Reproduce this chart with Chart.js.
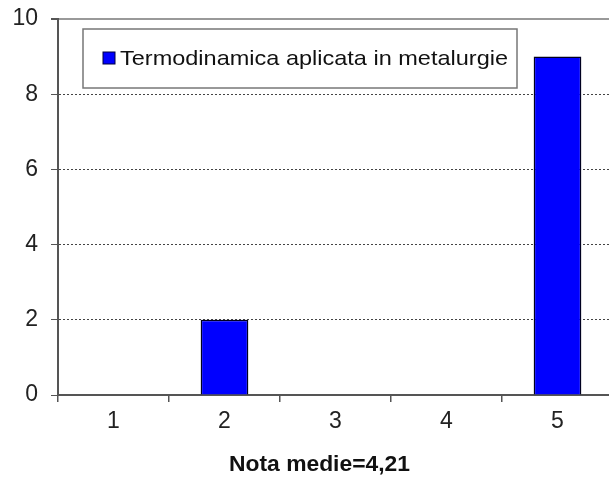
<!DOCTYPE html>
<html>
<head>
<meta charset="utf-8">
<script src="https://cdn.jsdelivr.net/npm/chart.js@4/dist/chart.umd.min.js"></script>
<style>
  html, body { margin: 0; padding: 0; background: #fff; overflow: hidden; }
  #wrap { width: 614px; height: 479px; }
</style>
</head>
<body>
<div id="wrap"><canvas id="chartNote" width="614" height="479"></canvas></div>
<script>
const note     = ['1', '2', '3', '4', '5'];
const studenti = [0, 2, 0, 0, 9];
const yTicks   = [0, 2, 4, 6, 8, 10];
const titluSerie = 'Termodinamica aplicata in metalurgie';
const titluAxa   = 'Nota medie=4,21';

const FONT = '"Liberation Sans", Arial, sans-serif';

// text intins pe orizontala pana la latimea data
const scrieIntins = (ctx, text, x, y, latime) => {
  const w = ctx.measureText(text).width;
  ctx.save();
  ctx.translate(x, y);
  ctx.scale(latime / w, 1);
  ctx.fillText(text, 0, 0);
  ctx.restore();
};

// legenda in chenar + titlul de jos
const legendaChenar = {
  id: 'legendaChenar',
  afterDraw(chart) {
    const ctx = chart.ctx;
    const ds = chart.data.datasets[0];
    ctx.save();
    ctx.fillStyle = '#fff';
    ctx.fillRect(83, 29, 434, 59);
    ctx.strokeStyle = '#777';
    ctx.lineWidth = 1.5;
    ctx.strokeRect(83, 29, 434, 59);

    ctx.fillStyle = ds.backgroundColor;
    ctx.fillRect(103, 52, 12, 12);
    ctx.strokeStyle = '#000040';
    ctx.lineWidth = 1;
    ctx.strokeRect(103, 52, 12, 12);

    ctx.font = '21px ' + FONT;
    ctx.fillStyle = '#111';
    ctx.textBaseline = 'middle';
    ctx.textAlign = 'left';
    scrieIntins(ctx, ds.label, 120, 59, 388);

    ctx.font = 'bold 22px ' + FONT;
    scrieIntins(ctx, titluAxa, 229, 465, 181);
    ctx.restore();
  }
};

new Chart(document.getElementById('chartNote'), {
  type: 'bar',
  data: {
    labels: note,
    datasets: [{
      label: titluSerie,
      data: studenti,
      backgroundColor: '#0000ff',
      borderColor: '#000020',
      borderWidth: 1.5,
      barPercentage: 1,
      categoryPercentage: 0.43
    }]
  },
  options: {
    responsive: false,
    animation: false,
    layout: { padding: { top: 19, right: 1, left: 0, bottom: 0 } },
    plugins: {
      legend: { display: false },
      tooltip: { enabled: false }
    },
    scales: {
      x: {
        afterFit: (s) => { s.height = 84; },
        grid: { drawOnChartArea: false, offset: true, tickLength: 7, color: '#555', lineWidth: 1.5 },
        border: { color: '#555', width: 2 },
        ticks: { font: { family: FONT, size: 23 }, color: '#222', padding: 6 }
      },
      y: {
        min: 0,
        max: 10,
        afterFit: (s) => { s.width = 58; s.paddingTop = 0; s.paddingBottom = 0; },
        afterBuildTicks: (s) => { s.ticks = yTicks.map(v => ({ value: v })); },
        grid: {
          color: (c) => c.tick.value === 0 ? 'transparent' : (c.tick.value === 10 ? '#999' : '#444'),
          lineWidth: (c) => c.tick.value === 10 ? 2 : 1,
          tickColor: '#555',
          tickLength: 7
        },
        border: {
          color: '#555',
          width: 2,
          dash: (c) => (c.tick && c.tick.value === 10) ? [] : [2, 2]
        },
        ticks: { font: { family: FONT, size: 23 }, color: '#222', padding: 13 }
      }
    }
  },
  plugins: [legendaChenar]
});
</script>
</body>
</html>
